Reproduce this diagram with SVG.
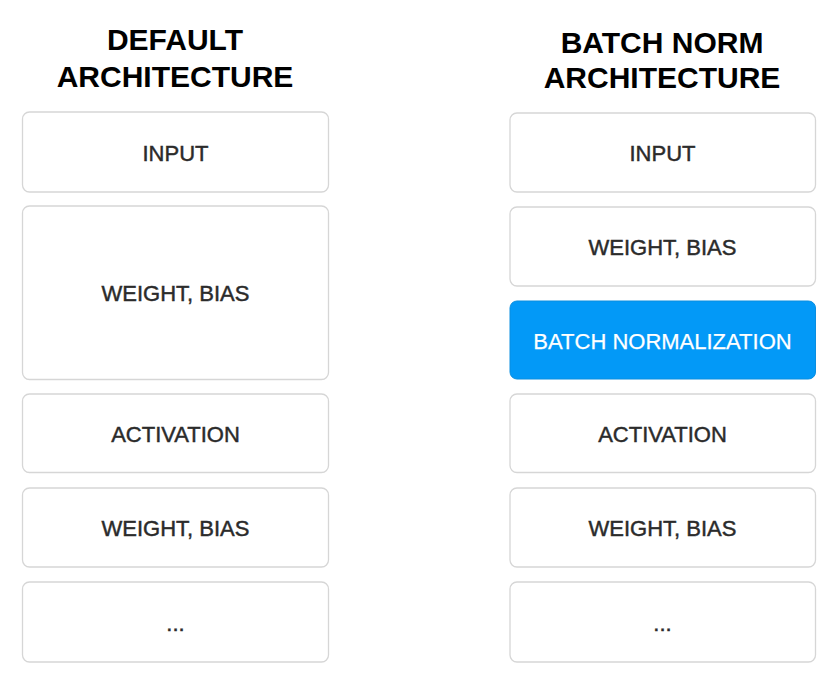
<svg xmlns="http://www.w3.org/2000/svg" width="838" height="679" viewBox="0 0 838 679">
<style>
.title{font-family:"Liberation Sans",Arial,sans-serif;font-weight:bold;font-size:30px;fill:#000;text-anchor:middle}
.box{fill:#fff;stroke:#d6d6d6;stroke-width:1.3}
.blue{fill:#0399f7;stroke:#0a8ee0;stroke-width:1}
.lbl{font-family:"Liberation Sans",Arial,sans-serif;font-size:22px;fill:#2b2b2b;stroke:#2b2b2b;stroke-width:0.45;text-anchor:middle}
.lblw{font-family:"Liberation Sans",Arial,sans-serif;font-size:22px;fill:#fff;stroke:#fff;stroke-width:0.25;text-anchor:middle}
</style>
<rect width="838" height="679" fill="#fff"/>
<g id="title-default">
<text class="title" x="175" y="50">DEFAULT</text>
<text class="title" x="175" y="87">ARCHITECTURE</text>
</g>
<g id="title-batchnorm">
<text class="title" x="662" y="52.5">BATCH NORM</text>
<text class="title" x="662" y="88">ARCHITECTURE</text>
</g>
<g id="l-input"><rect class="box" x="22.5" y="112" width="306" height="80" rx="7"/><text class="lbl" x="175.5" y="160.5">INPUT</text></g>
<g id="l-weight1"><rect class="box" x="22.5" y="206" width="306" height="173.5" rx="7"/><text class="lbl" x="175.5" y="301">WEIGHT, BIAS</text></g>
<g id="l-activation"><rect class="box" x="22.5" y="394" width="306" height="78.5" rx="7"/><text class="lbl" x="175.5" y="441.5">ACTIVATION</text></g>
<g id="l-weight2"><rect class="box" x="22.5" y="488" width="306" height="79" rx="7"/><text class="lbl" x="175.5" y="536">WEIGHT, BIAS</text></g>
<g id="l-more"><rect class="box" x="22.5" y="582" width="306" height="80" rx="7"/><text class="lbl" x="175.5" y="630.5">...</text></g>
<g id="r-input"><rect class="box" x="510" y="113" width="305.5" height="79" rx="7"/><text class="lbl" x="662.5" y="161">INPUT</text></g>
<g id="r-weight1"><rect class="box" x="510" y="207" width="305.5" height="79" rx="7"/><text class="lbl" x="662.5" y="255">WEIGHT, BIAS</text></g>
<g id="r-batchnorm"><rect class="blue" x="510" y="301" width="305.5" height="78" rx="7"/><text class="lblw" x="662.5" y="348.5">BATCH NORMALIZATION</text></g>
<g id="r-activation"><rect class="box" x="510" y="394" width="305.5" height="78.5" rx="7"/><text class="lbl" x="662.5" y="441.5">ACTIVATION</text></g>
<g id="r-weight2"><rect class="box" x="510" y="488" width="305.5" height="79" rx="7"/><text class="lbl" x="662.5" y="536">WEIGHT, BIAS</text></g>
<g id="r-more"><rect class="box" x="510" y="582" width="305.5" height="80" rx="7"/><text class="lbl" x="662.5" y="630.5">...</text></g>
<g id="connectors"></g>
</svg>
